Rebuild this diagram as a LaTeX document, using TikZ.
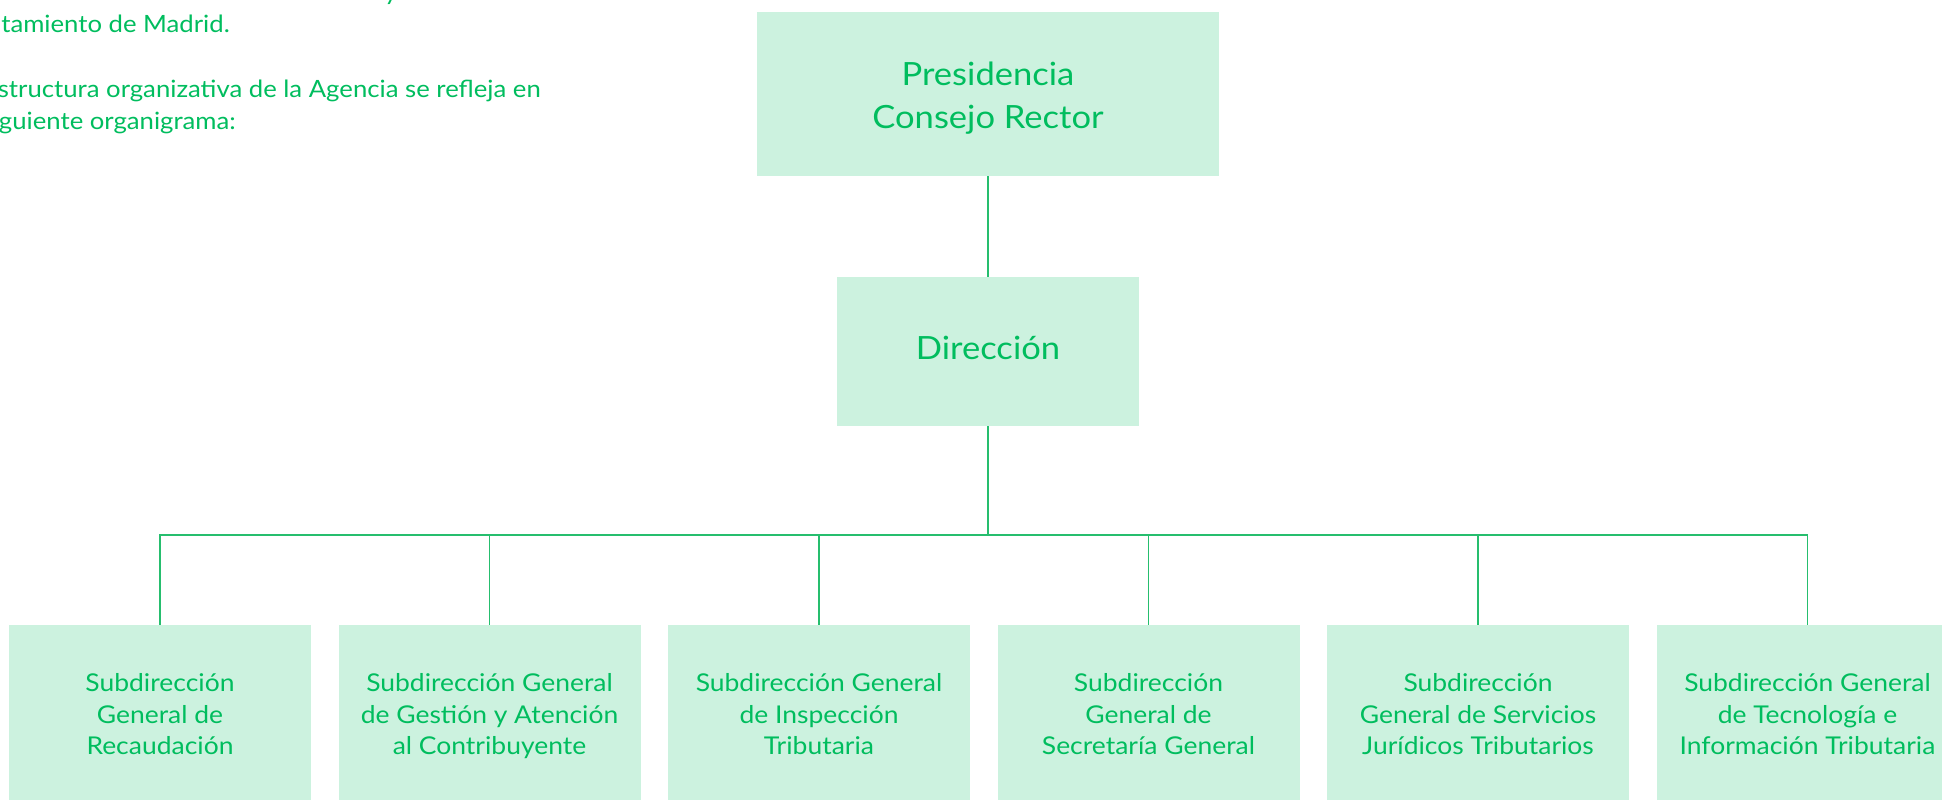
\documentclass[tikz,border=0pt]{standalone}
\usepackage{fontspec}
\setmainfont{Lato}[FakeStretch=1.08]
\definecolor{txtgreen}{RGB}{0,189,94}
\definecolor{boxfill}{RGB}{204,242,223}
\definecolor{linegreen}{RGB}{38,190,110}
\newcommand{\dstrut}{\rule[-0.25em]{0pt}{0pt}}
\newcommand{\sbtop}{\rule{0pt}{28.1pt}}
\newcommand{\prtop}{\rule{0pt}{33pt}}
\begin{document}
\begin{tikzpicture}[x=1pt,y=-1pt,
  orgbox/.style={fill=boxfill, draw=none, inner sep=0pt, text=txtgreen},
  multi/.style={align=center, execute at end node=\dstrut},
  topbox/.style={orgbox, multi, minimum width=462pt, minimum height=164pt, font=\fontsize{32}{43}\selectfont},
  dirbox/.style={orgbox, minimum width=302pt, minimum height=149pt, font=\fontsize{32}{43}\selectfont, text height=30pt, text depth=14pt},
  subbox/.style={orgbox, multi, minimum width=302pt, minimum height=175pt, font=\fontsize{24.5}{31.5}\selectfont},
  link/.style={draw=linegreen, line width=1.5pt},
  intro/.style={text=txtgreen, font=\fontsize{23.8}{32}\selectfont, inner sep=0pt, anchor=base east}]
\clip (0,0) rectangle (1942,800);
\fill[white] (0,0) rectangle (1942,800);

% intro text (cut at the edges in the reference)
\node[intro, anchor=base] (t0) at (391,1) {y};
\node[intro] (t1) at (230,33) {ntamiento de Madrid.};
\node[intro] (t2) at (541,97) {structura organizativa de la Agencia se refleja en};
\node[intro] (t3) at (236,129) {guiente organigrama:};

\node[topbox] (pres) at (988,94) {\prtop Presidencia\\Consejo Rector};
\node[dirbox] (dir) at (988,351.5) {Dirección};

\node[subbox] (s1) at (160,712.5) {\sbtop Subdirección\\General de\\Recaudación};
\node[subbox] (s2) at (489.5,712.5) {\sbtop Subdirección General\\de Gestión y Atención\\al Contribuyente};
\node[subbox] (s3) at (819,712.5) {\sbtop Subdirección General\\de Inspección\\Tributaria};
\node[subbox] (s4) at (1148.5,712.5) {\sbtop Subdirección\\General de\\Secretaría General};
\node[subbox] (s5) at (1478,712.5) {\sbtop Subdirección\\General de Servicios\\Jurídicos Tributarios};
\node[subbox] (s6) at (1807.5,712.5) {\sbtop Subdirección General\\de Tecnología e\\Información Tributaria};

\coordinate (bus) at (988,535);
\draw[link] (pres.south) -- (dir.north);
\draw[link] (dir.south) -- (bus);
\foreach \n in {s1,s2,s3,s4,s5,s6}
  \draw[link] (bus) -| (\n.north);
\end{tikzpicture}
\end{document}
